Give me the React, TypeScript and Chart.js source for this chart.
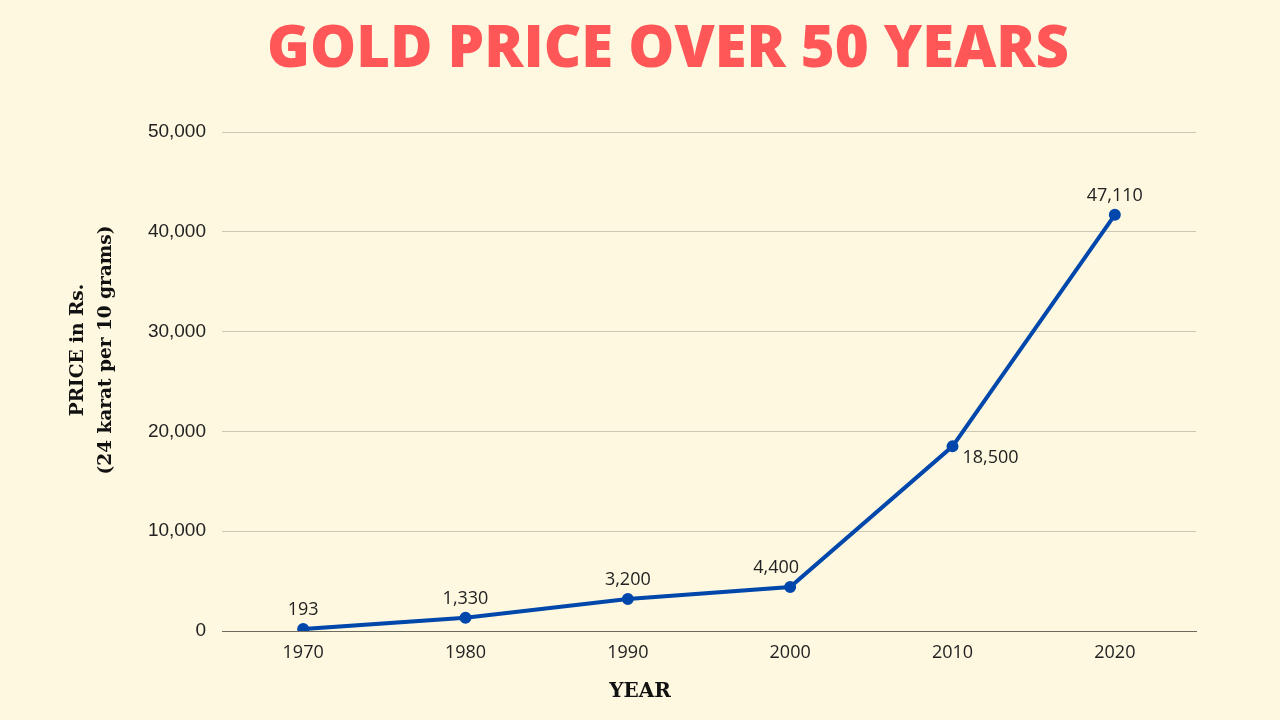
import React, { useEffect, useRef } from "react";
import { Chart, registerables } from "chart.js";

Chart.register(...registerables);

const years = ["1970", "1980", "1990", "2000", "2010", "2020"];
// plotted positions
const prices = [193, 1330, 3200, 4400, 18500, 41700];
// value labels as printed in the picture
const priceLabels = ["193", "1,330", "3,200", "4,400", "18,500", "47,110"];
const labelPlacement = ["above", "above", "above", "above-left", "below-right", "above"];
const yTicks = [0, 10000, 20000, 30000, 40000, 50000];

const TITLE = "GOLD PRICE OVER 50 YEARS";
const X_TITLE = "YEAR";
const Y_TITLE = ["PRICE in Rs.", "(24 karat per 10 grams)"];

const BG = "#FEF8E0";

const bgPlugin = {
  id: "bg",
  beforeDraw(chart: any) {
    const { ctx, width, height } = chart;
    ctx.save();
    ctx.fillStyle = BG;
    ctx.fillRect(0, 0, width, height);
    ctx.restore();
  },
};

const textPlugin = {
  id: "texts",
  afterDraw(chart: any) {
    const { ctx } = chart;
    ctx.save();
    // main title
    ctx.fillStyle = "#FF5757";
    ctx.font = '800 58px "Open Sans"';
    ctx.textAlign = "center";
    ctx.textBaseline = "middle";
    ctx.fillText(TITLE, 668, 50);
    // x axis title
    ctx.fillStyle = "#111111";
    ctx.font = 'bold 20px "DejaVu Serif"';
    ctx.fillText(X_TITLE, 640, 692);
    // y axis title
    ctx.translate(92, 350);
    ctx.rotate(-Math.PI / 2);
    ctx.font = 'bold 18.5px "DejaVu Serif"';
    ctx.fillText(Y_TITLE[0], 0, -14);
    ctx.fillText(Y_TITLE[1], 0, 14);
    ctx.restore();
  },
};

const valueLabels = {
  id: "valueLabels",
  afterDatasetsDraw(chart: any) {
    const { ctx } = chart;
    const meta = chart.getDatasetMeta(0);
    ctx.save();
    ctx.font = '18px "Open Sans"';
    ctx.fillStyle = "#222222";
    ctx.textAlign = "center";
    ctx.textBaseline = "middle";
    meta.data.forEach((pt: any, i: number) => {
      const place = labelPlacement[i];
      let dx = 0;
      let dy = -19;
      if (place === "above-left") {
        dx = -14;
      } else if (place === "below-right") {
        dx = 38;
        dy = 12;
      }
      ctx.fillText(priceLabels[i], pt.x + dx, pt.y + dy);
    });
    ctx.restore();
  },
};

export default function App() {
  const ref = useRef<HTMLCanvasElement>(null);
  useEffect(() => {
    if (!ref.current) return;
    const chart = new Chart(ref.current, {
      type: "line",
      data: {
        labels: years,
        datasets: [
          {
            data: prices,
            borderColor: "#0047AB",
            backgroundColor: "#0047AB",
            borderWidth: 4,
            pointRadius: 4,
            pointHoverRadius: 4,
            tension: 0,
          },
        ],
      },
      options: {
        responsive: false,
        animation: false,
        layout: { padding: { top: 132, right: 84, bottom: 0, left: 0 } },
        plugins: {
          legend: { display: false },
          tooltip: { enabled: false },
          title: { display: false },
        },
        scales: {
          x: {
            offset: true,
            grid: { display: false, drawTicks: false },
            border: { display: true, color: "#6e6a5e", width: 1 },
            ticks: {
              color: "#222222",
              font: { family: '"Open Sans"', size: 18 },
              padding: 11,
            },
            afterFit(scale: any) {
              scale.height = 89;
            },
          },
          y: {
            min: 0,
            max: 50000,
            afterBuildTicks(scale: any) {
              scale.ticks = yTicks.map((v) => ({ value: v }));
            },
            grid: {
              drawTicks: false,
              color: (c: any) => (c.tick && c.tick.value === 0 ? "#6e6a5e" : "#cdc7b2"),
              lineWidth: 1,
            },
            border: { display: false },
            ticks: {
              color: "#222222",
              font: { family: '"Liberation Sans"', size: 19 },
              padding: 16,
              callback: (v: any) => Number(v).toLocaleString("en-US"),
            },
            afterFit(scale: any) {
              scale.width = 222;
            },
          },
        },
      },
      plugins: [bgPlugin, valueLabels, textPlugin],
    });
    return () => chart.destroy();
  }, []);
  return (
    <div style={{ position: "absolute", left: 0, top: 0, width: 1280, height: 720, background: BG }}>
      <canvas ref={ref} width={1280} height={720} />
    </div>
  );
}
